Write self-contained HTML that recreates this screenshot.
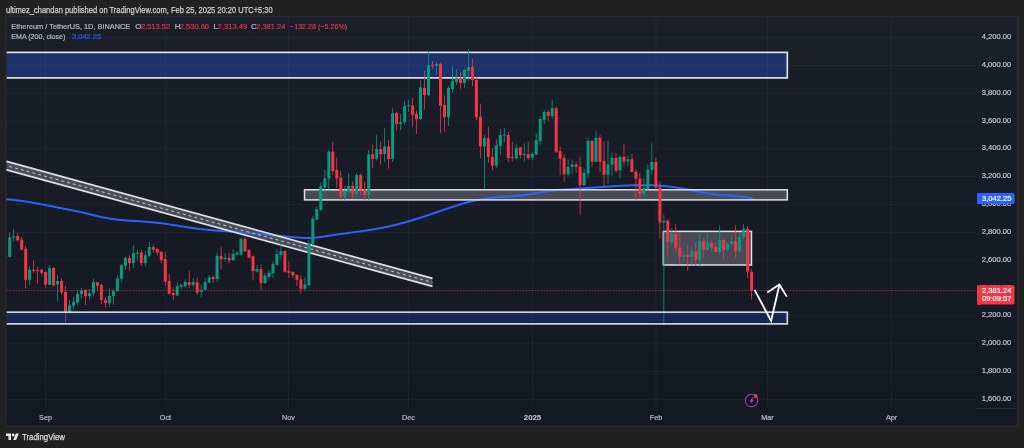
<!DOCTYPE html>
<html><head><meta charset="utf-8"><style>
html,body{margin:0;padding:0;background:#212121;}
body{width:1024px;height:448px;overflow:hidden;position:relative;font-family:"Liberation Sans", Arial, sans-serif;}
svg{position:absolute;left:0;top:0;will-change:transform;}
</style></head><body>
<svg width="1024" height="448" viewBox="0 0 1024 448" font-family='"Liberation Sans", Arial, sans-serif'>
<defs><linearGradient id="bgg" x1="0" y1="0" x2="0" y2="1"><stop offset="0" stop-color="#1a1e29"/><stop offset="1" stop-color="#141822"/></linearGradient><clipPath id="plot"><rect x="6.7" y="17" width="969.3" height="391"/></clipPath></defs>
<rect x="0" y="0" width="1024" height="448" fill="#212121"/>
<text x="6" y="12.7" font-size="9" fill="#cfcfcf" stroke="#cfcfcf" stroke-width="0.25" textLength="266.7" lengthAdjust="spacingAndGlyphs">ultimez_chandan published on TradingView.com, Feb 25, 2025 20:20 UTC+5:30</text>
<rect x="5.2" y="15.6" width="1013.8" height="411.8" fill="#292929"/>
<rect x="6.7" y="17" width="1010.1" height="408.4" fill="url(#bgg)"/>
<g stroke="rgba(255,255,255,0.04)" stroke-width="1">
<line x1="6.5" y1="399.39" x2="976" y2="399.39"/><line x1="6.5" y1="371.56" x2="976" y2="371.56"/><line x1="6.5" y1="343.72" x2="976" y2="343.72"/><line x1="6.5" y1="315.88" x2="976" y2="315.88"/><line x1="6.5" y1="288.04" x2="976" y2="288.04"/><line x1="6.5" y1="260.20" x2="976" y2="260.20"/><line x1="6.5" y1="232.37" x2="976" y2="232.37"/><line x1="6.5" y1="204.53" x2="976" y2="204.53"/><line x1="6.5" y1="176.69" x2="976" y2="176.69"/><line x1="6.5" y1="148.85" x2="976" y2="148.85"/><line x1="6.5" y1="121.01" x2="976" y2="121.01"/><line x1="6.5" y1="93.18" x2="976" y2="93.18"/><line x1="6.5" y1="65.34" x2="976" y2="65.34"/><line x1="6.5" y1="37.50" x2="976" y2="37.50"/><line x1="45.5" y1="17" x2="45.5" y2="408"/><line x1="165.4" y1="17" x2="165.4" y2="408"/><line x1="288.5" y1="17" x2="288.5" y2="408"/><line x1="408.5" y1="17" x2="408.5" y2="408"/><line x1="532.5" y1="17" x2="532.5" y2="408"/><line x1="656" y1="17" x2="656" y2="408"/><line x1="767.5" y1="17" x2="767.5" y2="408"/><line x1="891.5" y1="17" x2="891.5" y2="408"/>
</g>
<line x1="976" y1="408.5" x2="1017" y2="408.5" stroke="#2c2a33" stroke-width="1"/>
<!-- fills -->
<g clip-path="url(#plot)"><rect x="0" y="52.4" width="787.3" height="25.5" fill="rgba(41,98,255,0.3)"/></g>
<rect x="304.5" y="189.8" width="482.8" height="10.1" fill="#484a56"/>
<rect x="663.3" y="231.4" width="88.2" height="33.6" fill="#484a56"/>
<polygon points="6.5,161.4 432.5,278.4 432.5,286.4 6.5,169.9" fill="#4a4c57"/>
<!-- EMA -->
<path d="M6.8,199.36422375950121 C7.13,199.39 8.13,199.45 8.80,199.50 C9.47,199.55 10.13,199.61 10.80,199.66 C11.47,199.72 12.13,199.78 12.80,199.85 C13.47,199.91 14.13,199.98 14.80,200.06 C15.47,200.13 16.13,200.20 16.80,200.28 C17.47,200.36 18.13,200.44 18.80,200.53 C19.47,200.61 20.13,200.70 20.80,200.79 C21.47,200.88 22.13,200.98 22.80,201.07 C23.47,201.17 24.13,201.27 24.80,201.37 C25.47,201.47 26.13,201.58 26.80,201.68 C27.47,201.79 28.13,201.90 28.80,202.01 C29.47,202.12 30.13,202.23 30.80,202.35 C31.47,202.46 32.13,202.58 32.80,202.70 C33.47,202.81 34.13,202.93 34.80,203.06 C35.47,203.18 36.13,203.30 36.80,203.42 C37.47,203.55 38.13,203.67 38.80,203.80 C39.47,203.92 40.13,204.05 40.80,204.18 C41.47,204.31 42.13,204.44 42.80,204.57 C43.47,204.70 44.13,204.83 44.80,204.96 C45.47,205.09 46.13,205.22 46.80,205.35 C47.47,205.49 48.13,205.62 48.80,205.75 C49.47,205.88 50.13,206.01 50.80,206.15 C51.47,206.28 52.13,206.41 52.80,206.54 C53.47,206.67 54.13,206.81 54.80,206.94 C55.47,207.07 56.13,207.20 56.80,207.33 C57.47,207.46 58.13,207.59 58.80,207.72 C59.47,207.84 60.13,207.97 60.80,208.10 C61.47,208.23 62.13,208.36 62.80,208.49 C63.47,208.62 64.13,208.74 64.80,208.87 C65.47,209.00 66.13,209.13 66.80,209.26 C67.47,209.39 68.13,209.52 68.80,209.65 C69.47,209.78 70.13,209.91 70.80,210.05 C71.47,210.18 72.13,210.31 72.80,210.45 C73.47,210.58 74.13,210.71 74.80,210.85 C75.47,210.99 76.13,211.13 76.80,211.27 C77.47,211.40 78.13,211.55 78.80,211.69 C79.47,211.83 80.13,211.97 80.80,212.12 C81.47,212.27 82.13,212.41 82.80,212.56 C83.47,212.71 84.13,212.87 84.80,213.02 C85.47,213.17 86.13,213.33 86.80,213.49 C87.47,213.65 88.13,213.81 88.80,213.97 C89.47,214.13 90.13,214.30 90.80,214.46 C91.47,214.62 92.13,214.79 92.80,214.95 C93.47,215.12 94.13,215.28 94.80,215.44 C95.47,215.61 96.13,215.77 96.80,215.93 C97.47,216.09 98.13,216.25 98.80,216.40 C99.47,216.56 100.13,216.71 100.80,216.86 C101.47,217.01 102.13,217.16 102.80,217.30 C103.47,217.44 104.13,217.58 104.80,217.71 C105.47,217.84 106.13,217.97 106.80,218.09 C107.47,218.22 108.13,218.33 108.80,218.44 C109.47,218.56 110.13,218.66 110.80,218.77 C111.47,218.87 112.13,218.97 112.80,219.06 C113.47,219.15 114.13,219.24 114.80,219.33 C115.47,219.41 116.13,219.49 116.80,219.57 C117.47,219.65 118.13,219.72 118.80,219.79 C119.47,219.87 120.13,219.93 120.80,220.00 C121.47,220.06 122.13,220.13 122.80,220.19 C123.47,220.24 124.13,220.30 124.80,220.36 C125.47,220.41 126.13,220.46 126.80,220.51 C127.47,220.57 128.13,220.61 128.80,220.66 C129.47,220.71 130.13,220.76 130.80,220.80 C131.47,220.85 132.13,220.89 132.80,220.93 C133.47,220.97 134.13,221.02 134.80,221.06 C135.47,221.10 136.13,221.14 136.80,221.18 C137.47,221.22 138.13,221.26 138.80,221.31 C139.47,221.35 140.13,221.39 140.80,221.43 C141.47,221.47 142.13,221.51 142.80,221.56 C143.47,221.60 144.13,221.65 144.80,221.69 C145.47,221.74 146.13,221.78 146.80,221.83 C147.47,221.88 148.13,221.93 148.80,221.98 C149.47,222.04 150.13,222.09 150.80,222.15 C151.47,222.20 152.13,222.26 152.80,222.32 C153.47,222.39 154.13,222.45 154.80,222.52 C155.47,222.58 156.13,222.65 156.80,222.73 C157.47,222.80 158.13,222.88 158.80,222.96 C159.47,223.04 160.13,223.12 160.80,223.20 C161.47,223.29 162.13,223.37 162.80,223.46 C163.47,223.55 164.13,223.64 164.80,223.74 C165.47,223.83 166.13,223.93 166.80,224.02 C167.47,224.12 168.13,224.22 168.80,224.32 C169.47,224.42 170.13,224.52 170.80,224.63 C171.47,224.73 172.13,224.83 172.80,224.94 C173.47,225.04 174.13,225.15 174.80,225.26 C175.47,225.36 176.13,225.47 176.80,225.58 C177.47,225.68 178.13,225.79 178.80,225.90 C179.47,226.01 180.13,226.12 180.80,226.22 C181.47,226.33 182.13,226.44 182.80,226.54 C183.47,226.65 184.13,226.76 184.80,226.86 C185.47,226.97 186.13,227.07 186.80,227.18 C187.47,227.28 188.13,227.38 188.80,227.48 C189.47,227.58 190.13,227.68 190.80,227.78 C191.47,227.88 192.13,227.97 192.80,228.07 C193.47,228.16 194.13,228.25 194.80,228.34 C195.47,228.43 196.13,228.52 196.80,228.61 C197.47,228.69 198.13,228.78 198.80,228.86 C199.47,228.94 200.13,229.02 200.80,229.09 C201.47,229.17 202.13,229.24 202.80,229.32 C203.47,229.39 204.13,229.46 204.80,229.53 C205.47,229.60 206.13,229.67 206.80,229.73 C207.47,229.80 208.13,229.86 208.80,229.92 C209.47,229.99 210.13,230.05 210.80,230.11 C211.47,230.17 212.13,230.22 212.80,230.28 C213.47,230.34 214.13,230.39 214.80,230.45 C215.47,230.50 216.13,230.56 216.80,230.61 C217.47,230.66 218.13,230.71 218.80,230.76 C219.47,230.82 220.13,230.87 220.80,230.92 C221.47,230.97 222.13,231.01 222.80,231.06 C223.47,231.11 224.13,231.16 224.80,231.21 C225.47,231.25 226.13,231.30 226.80,231.35 C227.47,231.39 228.13,231.44 228.80,231.49 C229.47,231.53 230.13,231.58 230.80,231.63 C231.47,231.67 232.13,231.72 232.80,231.77 C233.47,231.81 234.13,231.86 234.80,231.91 C235.47,231.95 236.13,232.00 236.80,232.05 C237.47,232.10 238.13,232.15 238.80,232.20 C239.47,232.24 240.13,232.29 240.80,232.34 C241.47,232.40 242.13,232.45 242.80,232.50 C243.47,232.55 244.13,232.60 244.80,232.66 C245.47,232.71 246.13,232.77 246.80,232.82 C247.47,232.88 248.13,232.94 248.80,232.99 C249.47,233.05 250.13,233.11 250.80,233.17 C251.47,233.23 252.13,233.29 252.80,233.35 C253.47,233.41 254.13,233.48 254.80,233.54 C255.47,233.60 256.13,233.67 256.80,233.73 C257.47,233.80 258.13,233.86 258.80,233.93 C259.47,233.99 260.13,234.06 260.80,234.12 C261.47,234.19 262.13,234.26 262.80,234.32 C263.47,234.39 264.13,234.46 264.80,234.52 C265.47,234.59 266.13,234.66 266.80,234.73 C267.47,234.79 268.13,234.86 268.80,234.93 C269.47,235.00 270.13,235.06 270.80,235.13 C271.47,235.20 272.13,235.27 272.80,235.33 C273.47,235.40 274.13,235.47 274.80,235.53 C275.47,235.60 276.13,235.67 276.80,235.73 C277.47,235.80 278.13,235.86 278.80,235.93 C279.47,235.99 280.13,236.06 280.80,236.12 C281.47,236.18 282.13,236.25 282.80,236.31 C283.47,236.37 284.13,236.43 284.80,236.49 C285.47,236.55 286.13,236.61 286.80,236.67 C287.47,236.73 288.13,236.79 288.80,236.85 C289.47,236.90 290.13,236.96 290.80,237.02 C291.47,237.07 292.13,237.12 292.80,237.18 C293.47,237.23 294.13,237.28 294.80,237.33 C295.47,237.38 296.13,237.43 296.80,237.48 C297.47,237.52 298.13,237.57 298.80,237.61 C299.47,237.66 300.13,237.70 300.80,237.74 C301.47,237.78 302.13,237.82 302.80,237.86 C303.47,237.89 304.13,237.92 304.80,237.95 C305.47,237.97 306.13,237.99 306.80,238.00 C307.47,238.02 308.13,238.02 308.80,238.02 C309.47,238.01 310.13,238.00 310.80,237.97 C311.47,237.95 312.13,237.91 312.80,237.86 C313.47,237.82 314.13,237.76 314.80,237.69 C315.47,237.62 316.13,237.55 316.80,237.47 C317.47,237.38 318.13,237.30 318.80,237.21 C319.47,237.12 320.13,237.02 320.80,236.93 C321.47,236.84 322.13,236.74 322.80,236.64 C323.47,236.55 324.13,236.45 324.80,236.35 C325.47,236.25 326.13,236.16 326.80,236.06 C327.47,235.96 328.13,235.86 328.80,235.76 C329.47,235.66 330.13,235.56 330.80,235.46 C331.47,235.36 332.13,235.26 332.80,235.16 C333.47,235.06 334.13,234.96 334.80,234.86 C335.47,234.76 336.13,234.66 336.80,234.57 C337.47,234.47 338.13,234.37 338.80,234.27 C339.47,234.18 340.13,234.08 340.80,233.99 C341.47,233.90 342.13,233.80 342.80,233.71 C343.47,233.62 344.13,233.53 344.80,233.44 C345.47,233.35 346.13,233.26 346.80,233.17 C347.47,233.08 348.13,232.99 348.80,232.90 C349.47,232.81 350.13,232.72 350.80,232.63 C351.47,232.55 352.13,232.46 352.80,232.37 C353.47,232.28 354.13,232.19 354.80,232.10 C355.47,232.02 356.13,231.93 356.80,231.84 C357.47,231.75 358.13,231.66 358.80,231.57 C359.47,231.48 360.13,231.39 360.80,231.29 C361.47,231.20 362.13,231.11 362.80,231.01 C363.47,230.92 364.13,230.82 364.80,230.73 C365.47,230.63 366.13,230.53 366.80,230.43 C367.47,230.34 368.13,230.23 368.80,230.13 C369.47,230.03 370.13,229.93 370.80,229.82 C371.47,229.71 372.13,229.61 372.80,229.50 C373.47,229.39 374.13,229.28 374.80,229.16 C375.47,229.05 376.13,228.93 376.80,228.81 C377.47,228.70 378.13,228.58 378.80,228.45 C379.47,228.33 380.13,228.20 380.80,228.07 C381.47,227.95 382.13,227.81 382.80,227.68 C383.47,227.55 384.13,227.41 384.80,227.27 C385.47,227.13 386.13,226.99 386.80,226.84 C387.47,226.70 388.13,226.55 388.80,226.40 C389.47,226.25 390.13,226.10 390.80,225.95 C391.47,225.79 392.13,225.64 392.80,225.48 C393.47,225.32 394.13,225.16 394.80,225.00 C395.47,224.83 396.13,224.67 396.80,224.50 C397.47,224.33 398.13,224.16 398.80,223.99 C399.47,223.82 400.13,223.64 400.80,223.46 C401.47,223.29 402.13,223.11 402.80,222.93 C403.47,222.75 404.13,222.57 404.80,222.38 C405.47,222.20 406.13,222.01 406.80,221.82 C407.47,221.63 408.13,221.44 408.80,221.25 C409.47,221.06 410.13,220.86 410.80,220.67 C411.47,220.47 412.13,220.27 412.80,220.07 C413.47,219.87 414.13,219.67 414.80,219.47 C415.47,219.26 416.13,219.06 416.80,218.85 C417.47,218.65 418.13,218.44 418.80,218.23 C419.47,218.02 420.13,217.81 420.80,217.60 C421.47,217.38 422.13,217.17 422.80,216.95 C423.47,216.74 424.13,216.52 424.80,216.30 C425.47,216.08 426.13,215.86 426.80,215.64 C427.47,215.42 428.13,215.20 428.80,214.97 C429.47,214.75 430.13,214.52 430.80,214.30 C431.47,214.07 432.13,213.84 432.80,213.62 C433.47,213.39 434.13,213.16 434.80,212.93 C435.47,212.70 436.13,212.47 436.80,212.24 C437.47,212.01 438.13,211.78 438.80,211.54 C439.47,211.31 440.13,211.08 440.80,210.85 C441.47,210.62 442.13,210.39 442.80,210.16 C443.47,209.93 444.13,209.70 444.80,209.47 C445.47,209.24 446.13,209.01 446.80,208.78 C447.47,208.56 448.13,208.33 448.80,208.11 C449.47,207.88 450.13,207.66 450.80,207.43 C451.47,207.21 452.13,206.99 452.80,206.77 C453.47,206.55 454.13,206.33 454.80,206.12 C455.47,205.90 456.13,205.69 456.80,205.48 C457.47,205.27 458.13,205.06 458.80,204.86 C459.47,204.65 460.13,204.45 460.80,204.25 C461.47,204.05 462.13,203.85 462.80,203.65 C463.47,203.46 464.13,203.27 464.80,203.08 C465.47,202.89 466.13,202.71 466.80,202.53 C467.47,202.35 468.13,202.17 468.80,201.99 C469.47,201.82 470.13,201.65 470.80,201.49 C471.47,201.32 472.13,201.16 472.80,201.00 C473.47,200.85 474.13,200.70 474.80,200.55 C475.47,200.40 476.13,200.26 476.80,200.12 C477.47,199.98 478.13,199.85 478.80,199.72 C479.47,199.60 480.13,199.48 480.80,199.36 C481.47,199.24 482.13,199.13 482.80,199.02 C483.47,198.92 484.13,198.82 484.80,198.72 C485.47,198.62 486.13,198.53 486.80,198.44 C487.47,198.35 488.13,198.27 488.80,198.19 C489.47,198.11 490.13,198.03 490.80,197.95 C491.47,197.88 492.13,197.81 492.80,197.74 C493.47,197.67 494.13,197.61 494.80,197.55 C495.47,197.48 496.13,197.42 496.80,197.36 C497.47,197.31 498.13,197.25 498.80,197.19 C499.47,197.14 500.13,197.09 500.80,197.04 C501.47,196.98 502.13,196.93 502.80,196.88 C503.47,196.83 504.13,196.78 504.80,196.74 C505.47,196.69 506.13,196.64 506.80,196.59 C507.47,196.54 508.13,196.49 508.80,196.45 C509.47,196.40 510.13,196.35 510.80,196.30 C511.47,196.25 512.13,196.20 512.80,196.15 C513.47,196.09 514.13,196.04 514.80,195.99 C515.47,195.93 516.13,195.87 516.80,195.82 C517.47,195.76 518.13,195.70 518.80,195.63 C519.47,195.57 520.13,195.51 520.80,195.44 C521.47,195.37 522.13,195.30 522.80,195.22 C523.47,195.15 524.13,195.07 524.80,194.99 C525.47,194.91 526.13,194.82 526.80,194.74 C527.47,194.65 528.13,194.55 528.80,194.46 C529.47,194.36 530.13,194.26 530.80,194.15 C531.47,194.04 532.13,193.93 532.80,193.82 C533.47,193.70 534.13,193.59 534.80,193.47 C535.47,193.35 536.13,193.23 536.80,193.10 C537.47,192.98 538.13,192.86 538.80,192.73 C539.47,192.61 540.13,192.49 540.80,192.36 C541.47,192.24 542.13,192.12 542.80,192.00 C543.47,191.88 544.13,191.76 544.80,191.65 C545.47,191.53 546.13,191.42 546.80,191.32 C547.47,191.21 548.13,191.11 548.80,191.01 C549.47,190.91 550.13,190.82 550.80,190.73 C551.47,190.65 552.13,190.57 552.80,190.49 C553.47,190.42 554.13,190.35 554.80,190.28 C555.47,190.21 556.13,190.15 556.80,190.09 C557.47,190.04 558.13,189.98 558.80,189.93 C559.47,189.88 560.13,189.83 560.80,189.78 C561.47,189.74 562.13,189.69 562.80,189.65 C563.47,189.61 564.13,189.57 564.80,189.53 C565.47,189.49 566.13,189.45 566.80,189.41 C567.47,189.37 568.13,189.33 568.80,189.30 C569.47,189.26 570.13,189.22 570.80,189.18 C571.47,189.14 572.13,189.10 572.80,189.06 C573.47,189.01 574.13,188.97 574.80,188.93 C575.47,188.89 576.13,188.84 576.80,188.80 C577.47,188.75 578.13,188.71 578.80,188.66 C579.47,188.62 580.13,188.57 580.80,188.53 C581.47,188.48 582.13,188.43 582.80,188.39 C583.47,188.34 584.13,188.29 584.80,188.24 C585.47,188.20 586.13,188.15 586.80,188.10 C587.47,188.05 588.13,188.00 588.80,187.95 C589.47,187.91 590.13,187.86 590.80,187.81 C591.47,187.76 592.13,187.71 592.80,187.66 C593.47,187.61 594.13,187.56 594.80,187.52 C595.47,187.47 596.13,187.42 596.80,187.37 C597.47,187.32 598.13,187.27 598.80,187.22 C599.47,187.17 600.13,187.13 600.80,187.08 C601.47,187.03 602.13,186.98 602.80,186.94 C603.47,186.89 604.13,186.84 604.80,186.79 C605.47,186.75 606.13,186.70 606.80,186.66 C607.47,186.61 608.13,186.56 608.80,186.52 C609.47,186.48 610.13,186.43 610.80,186.39 C611.47,186.34 612.13,186.30 612.80,186.26 C613.47,186.22 614.13,186.18 614.80,186.13 C615.47,186.09 616.13,186.05 616.80,186.01 C617.47,185.98 618.13,185.94 618.80,185.90 C619.47,185.86 620.13,185.83 620.80,185.79 C621.47,185.75 622.13,185.72 622.80,185.69 C623.47,185.65 624.13,185.62 624.80,185.59 C625.47,185.56 626.13,185.53 626.80,185.50 C627.47,185.47 628.13,185.44 628.80,185.42 C629.47,185.39 630.13,185.37 630.80,185.35 C631.47,185.32 632.13,185.30 632.80,185.28 C633.47,185.26 634.13,185.24 634.80,185.23 C635.47,185.21 636.13,185.20 636.80,185.19 C637.47,185.17 638.13,185.16 638.80,185.15 C639.47,185.15 640.13,185.14 640.80,185.14 C641.47,185.13 642.13,185.13 642.80,185.13 C643.47,185.13 644.13,185.13 644.80,185.14 C645.47,185.14 646.13,185.15 646.80,185.16 C647.47,185.17 648.13,185.18 648.80,185.20 C649.47,185.21 650.13,185.23 650.80,185.25 C651.47,185.27 652.13,185.29 652.80,185.32 C653.47,185.34 654.13,185.37 654.80,185.40 C655.47,185.43 656.13,185.47 656.80,185.51 C657.47,185.54 658.13,185.58 658.80,185.63 C659.47,185.67 660.13,185.72 660.80,185.77 C661.47,185.82 662.13,185.87 662.80,185.93 C663.47,185.99 664.13,186.05 664.80,186.11 C665.47,186.18 666.13,186.24 666.80,186.32 C667.47,186.39 668.13,186.46 668.80,186.54 C669.47,186.62 670.13,186.70 670.80,186.79 C671.47,186.87 672.13,186.96 672.80,187.06 C673.47,187.15 674.13,187.25 674.80,187.35 C675.47,187.45 676.13,187.55 676.80,187.66 C677.47,187.76 678.13,187.87 678.80,187.98 C679.47,188.09 680.13,188.20 680.80,188.32 C681.47,188.43 682.13,188.55 682.80,188.67 C683.47,188.79 684.13,188.91 684.80,189.03 C685.47,189.15 686.13,189.28 686.80,189.40 C687.47,189.52 688.13,189.65 688.80,189.77 C689.47,189.90 690.13,190.03 690.80,190.15 C691.47,190.28 692.13,190.41 692.80,190.54 C693.47,190.66 694.13,190.79 694.80,190.92 C695.47,191.04 696.13,191.17 696.80,191.30 C697.47,191.42 698.13,191.55 698.80,191.67 C699.47,191.80 700.13,191.92 700.80,192.04 C701.47,192.17 702.13,192.29 702.80,192.41 C703.47,192.53 704.13,192.64 704.80,192.76 C705.47,192.87 706.13,192.99 706.80,193.10 C707.47,193.21 708.13,193.32 708.80,193.43 C709.47,193.53 710.13,193.64 710.80,193.74 C711.47,193.84 712.13,193.94 712.80,194.03 C713.47,194.13 714.13,194.22 714.80,194.30 C715.47,194.39 716.13,194.48 716.80,194.56 C717.47,194.64 718.13,194.71 718.80,194.78 C719.47,194.85 720.13,194.92 720.80,194.98 C721.47,195.05 722.13,195.11 722.80,195.16 C723.47,195.22 724.13,195.27 724.80,195.32 C725.47,195.37 726.13,195.42 726.80,195.46 C727.47,195.51 728.13,195.55 728.80,195.60 C729.47,195.64 730.13,195.68 730.80,195.73 C731.47,195.77 732.13,195.81 732.80,195.86 C733.47,195.91 734.13,195.95 734.80,196.00 C735.47,196.05 736.13,196.10 736.80,196.16 C737.47,196.21 738.13,196.27 738.80,196.33 C739.47,196.39 740.13,196.45 740.80,196.52 C741.47,196.59 742.13,196.67 742.80,196.75 C743.47,196.83 744.13,196.92 744.80,197.01 C745.47,197.10 746.13,197.20 746.80,197.31 C747.47,197.42 748.13,197.53 748.80,197.66 C749.47,197.78 750.23,197.94 750.80,198.05 C751.37,198.17 751.97,198.31 752.20,198.36" fill="none" stroke="#2962ff" stroke-width="2" stroke-linejoin="round" stroke-linecap="round"/>
<!-- borders -->
<g fill="none" stroke="#dfe0e5">
<g clip-path="url(#plot)"><rect x="0" y="52.4" width="787.3" height="25.5" stroke-width="1.7"/></g>
<rect x="304.5" y="189.8" width="482.8" height="10.1" stroke-width="1.5"/>
<rect x="663.3" y="231.4" width="88.2" height="33.6" stroke-width="1.5"/>
<line x1="6.5" y1="161.4" x2="432.5" y2="278.4" stroke-width="1.7"/>
<line x1="6.5" y1="169.9" x2="432.5" y2="286.4" stroke-width="1.7"/>
<line x1="6.5" y1="165.65" x2="432.5" y2="282.4" stroke="#c8cad2" stroke-width="1" stroke-dasharray="3,3" stroke-dashoffset="-2.8"/>
</g>
<!-- candles -->
<g clip-path="url(#plot)">
<rect x="5.31" y="254.5" width="0.8" height="3.5" fill="#f23645"/>
<rect x="4.2" y="255.5" width="3" height="1.5" fill="#f23645"/>
<rect x="9.30" y="232.3" width="0.8" height="25.2" fill="#089981"/>
<rect x="8.2" y="237.3" width="3" height="19.6" fill="#089981"/>
<rect x="13.29" y="229.1" width="0.8" height="12.1" fill="#089981"/>
<rect x="12.2" y="236.4" width="3" height="1.3" fill="#089981"/>
<rect x="17.28" y="233.0" width="0.8" height="8.6" fill="#f23645"/>
<rect x="16.2" y="236.1" width="3" height="4.1" fill="#f23645"/>
<rect x="21.27" y="237.0" width="0.8" height="13.5" fill="#f23645"/>
<rect x="20.2" y="239.6" width="3" height="10.0" fill="#f23645"/>
<rect x="25.26" y="246.2" width="0.8" height="42.2" fill="#f23645"/>
<rect x="24.2" y="248.6" width="3" height="31.2" fill="#f23645"/>
<rect x="29.25" y="266.2" width="0.8" height="18.8" fill="#089981"/>
<rect x="28.1" y="269.7" width="3" height="10.1" fill="#089981"/>
<rect x="33.23" y="260.3" width="0.8" height="12.5" fill="#f23645"/>
<rect x="32.1" y="269.8" width="3" height="1.2" fill="#f23645"/>
<rect x="37.22" y="266.6" width="0.8" height="17.1" fill="#f23645"/>
<rect x="36.1" y="270.2" width="3" height="1.0" fill="#f23645"/>
<rect x="41.21" y="268.9" width="0.8" height="5.8" fill="#f23645"/>
<rect x="40.1" y="269.7" width="3" height="3.1" fill="#f23645"/>
<rect x="45.20" y="271.2" width="0.8" height="16.4" fill="#f23645"/>
<rect x="44.1" y="272.0" width="3" height="12.5" fill="#f23645"/>
<rect x="49.19" y="265.0" width="0.8" height="20.0" fill="#089981"/>
<rect x="48.1" y="268.1" width="3" height="16.7" fill="#089981"/>
<rect x="53.18" y="266.9" width="0.8" height="20.0" fill="#f23645"/>
<rect x="52.1" y="268.1" width="3" height="17.2" fill="#f23645"/>
<rect x="57.17" y="275.2" width="0.8" height="25.7" fill="#089981"/>
<rect x="56.1" y="281.0" width="3" height="3.5" fill="#089981"/>
<rect x="61.15" y="278.3" width="0.8" height="16.4" fill="#f23645"/>
<rect x="60.1" y="281.0" width="3" height="11.3" fill="#f23645"/>
<rect x="65.14" y="286.4" width="0.8" height="36.1" fill="#f23645"/>
<rect x="64.0" y="292.0" width="3" height="20.1" fill="#f23645"/>
<rect x="69.13" y="299.8" width="0.8" height="12.7" fill="#089981"/>
<rect x="68.0" y="305.2" width="3" height="6.9" fill="#089981"/>
<rect x="73.12" y="297.1" width="0.8" height="12.3" fill="#089981"/>
<rect x="72.0" y="302.0" width="3" height="3.7" fill="#089981"/>
<rect x="77.11" y="290.2" width="0.8" height="15.0" fill="#089981"/>
<rect x="76.0" y="293.9" width="3" height="8.6" fill="#089981"/>
<rect x="81.10" y="288.0" width="0.8" height="10.7" fill="#089981"/>
<rect x="80.0" y="290.2" width="3" height="3.7" fill="#089981"/>
<rect x="85.09" y="289.1" width="0.8" height="15.7" fill="#f23645"/>
<rect x="84.0" y="289.9" width="3" height="6.4" fill="#f23645"/>
<rect x="89.08" y="289.1" width="0.8" height="10.7" fill="#089981"/>
<rect x="88.0" y="293.1" width="3" height="3.0" fill="#089981"/>
<rect x="93.06" y="279.0" width="0.8" height="17.2" fill="#089981"/>
<rect x="92.0" y="282.1" width="3" height="11.3" fill="#089981"/>
<rect x="97.05" y="281.6" width="0.8" height="9.1" fill="#f23645"/>
<rect x="96.0" y="282.4" width="3" height="3.5" fill="#f23645"/>
<rect x="101.04" y="283.4" width="0.8" height="20.7" fill="#f23645"/>
<rect x="99.9" y="285.1" width="3" height="14.7" fill="#f23645"/>
<rect x="105.03" y="297.1" width="0.8" height="10.7" fill="#f23645"/>
<rect x="103.9" y="300.1" width="3" height="2.9" fill="#f23645"/>
<rect x="109.02" y="288.6" width="0.8" height="18.2" fill="#089981"/>
<rect x="107.9" y="296.1" width="3" height="6.9" fill="#089981"/>
<rect x="113.01" y="289.1" width="0.8" height="15.5" fill="#089981"/>
<rect x="111.9" y="291.2" width="3" height="4.9" fill="#089981"/>
<rect x="117.00" y="275.0" width="0.8" height="16.6" fill="#089981"/>
<rect x="115.9" y="278.3" width="3" height="12.9" fill="#089981"/>
<rect x="120.99" y="264.2" width="0.8" height="18.0" fill="#089981"/>
<rect x="119.9" y="265.3" width="3" height="13.4" fill="#089981"/>
<rect x="124.97" y="256.4" width="0.8" height="13.3" fill="#089981"/>
<rect x="123.9" y="258.0" width="3" height="7.8" fill="#089981"/>
<rect x="128.96" y="255.2" width="0.8" height="15.8" fill="#f23645"/>
<rect x="127.9" y="258.0" width="3" height="5.1" fill="#f23645"/>
<rect x="132.95" y="245.2" width="0.8" height="22.9" fill="#089981"/>
<rect x="131.9" y="253.0" width="3" height="10.1" fill="#089981"/>
<rect x="136.94" y="249.7" width="0.8" height="11.1" fill="#089981"/>
<rect x="135.8" y="252.8" width="3" height="1.0" fill="#089981"/>
<rect x="140.93" y="250.2" width="0.8" height="15.6" fill="#f23645"/>
<rect x="139.8" y="252.5" width="3" height="10.6" fill="#f23645"/>
<rect x="144.92" y="251.0" width="0.8" height="14.8" fill="#089981"/>
<rect x="143.8" y="255.2" width="3" height="7.9" fill="#089981"/>
<rect x="148.91" y="242.0" width="0.8" height="15.5" fill="#089981"/>
<rect x="147.8" y="247.0" width="3" height="8.6" fill="#089981"/>
<rect x="152.89" y="244.7" width="0.8" height="7.8" fill="#f23645"/>
<rect x="151.8" y="247.0" width="3" height="2.7" fill="#f23645"/>
<rect x="156.88" y="247.8" width="0.8" height="7.8" fill="#f23645"/>
<rect x="155.8" y="249.0" width="3" height="3.5" fill="#f23645"/>
<rect x="160.87" y="250.8" width="0.8" height="12.5" fill="#f23645"/>
<rect x="159.8" y="251.9" width="3" height="8.3" fill="#f23645"/>
<rect x="164.86" y="251.6" width="0.8" height="34.0" fill="#f23645"/>
<rect x="163.8" y="259.0" width="3" height="22.7" fill="#f23645"/>
<rect x="168.85" y="273.9" width="0.8" height="20.7" fill="#f23645"/>
<rect x="167.7" y="280.9" width="3" height="12.9" fill="#f23645"/>
<rect x="172.84" y="287.2" width="0.8" height="12.9" fill="#f23645"/>
<rect x="171.7" y="293.0" width="3" height="2.0" fill="#f23645"/>
<rect x="176.83" y="282.1" width="0.8" height="13.9" fill="#089981"/>
<rect x="175.7" y="286.0" width="3" height="9.4" fill="#089981"/>
<rect x="180.82" y="284.0" width="0.8" height="4.8" fill="#089981"/>
<rect x="179.7" y="284.8" width="3" height="2.0" fill="#089981"/>
<rect x="184.80" y="279.4" width="0.8" height="7.4" fill="#089981"/>
<rect x="183.7" y="282.1" width="3" height="4.3" fill="#089981"/>
<rect x="188.79" y="271.2" width="0.8" height="16.4" fill="#f23645"/>
<rect x="187.7" y="282.1" width="3" height="2.7" fill="#f23645"/>
<rect x="192.78" y="278.2" width="0.8" height="9.0" fill="#089981"/>
<rect x="191.7" y="282.1" width="3" height="2.7" fill="#089981"/>
<rect x="196.77" y="277.4" width="0.8" height="17.2" fill="#f23645"/>
<rect x="195.7" y="282.1" width="3" height="10.6" fill="#f23645"/>
<rect x="200.76" y="284.5" width="0.8" height="12.8" fill="#089981"/>
<rect x="199.7" y="290.3" width="3" height="1.6" fill="#089981"/>
<rect x="204.75" y="278.1" width="0.8" height="12.5" fill="#089981"/>
<rect x="203.6" y="282.1" width="3" height="7.8" fill="#089981"/>
<rect x="208.74" y="275.0" width="0.8" height="8.0" fill="#089981"/>
<rect x="207.6" y="277.2" width="3" height="5.5" fill="#089981"/>
<rect x="212.73" y="275.8" width="0.8" height="7.1" fill="#f23645"/>
<rect x="211.6" y="277.2" width="3" height="1.8" fill="#f23645"/>
<rect x="216.71" y="252.3" width="0.8" height="29.4" fill="#089981"/>
<rect x="215.6" y="255.9" width="3" height="23.1" fill="#089981"/>
<rect x="220.70" y="247.2" width="0.8" height="21.8" fill="#f23645"/>
<rect x="219.6" y="255.9" width="3" height="3.5" fill="#f23645"/>
<rect x="224.69" y="253.1" width="0.8" height="8.6" fill="#089981"/>
<rect x="223.6" y="257.8" width="3" height="1.2" fill="#089981"/>
<rect x="228.68" y="253.1" width="0.8" height="10.2" fill="#f23645"/>
<rect x="227.6" y="257.8" width="3" height="2.4" fill="#f23645"/>
<rect x="232.67" y="249.2" width="0.8" height="11.8" fill="#089981"/>
<rect x="231.6" y="253.9" width="3" height="6.3" fill="#089981"/>
<rect x="236.66" y="251.3" width="0.8" height="4.2" fill="#089981"/>
<rect x="235.6" y="252.8" width="3" height="1.9" fill="#089981"/>
<rect x="240.65" y="237.5" width="0.8" height="18.0" fill="#089981"/>
<rect x="239.5" y="239.1" width="3" height="15.3" fill="#089981"/>
<rect x="244.63" y="236.7" width="0.8" height="14.9" fill="#f23645"/>
<rect x="243.5" y="238.8" width="3" height="12.5" fill="#f23645"/>
<rect x="248.62" y="249.2" width="0.8" height="9.4" fill="#f23645"/>
<rect x="247.5" y="250.0" width="3" height="7.8" fill="#f23645"/>
<rect x="252.61" y="255.5" width="0.8" height="25.0" fill="#f23645"/>
<rect x="251.5" y="256.2" width="3" height="14.9" fill="#f23645"/>
<rect x="256.60" y="265.3" width="0.8" height="7.4" fill="#089981"/>
<rect x="255.5" y="269.0" width="3" height="2.6" fill="#089981"/>
<rect x="260.59" y="264.4" width="0.8" height="25.4" fill="#f23645"/>
<rect x="259.5" y="269.0" width="3" height="14.1" fill="#f23645"/>
<rect x="264.58" y="273.1" width="0.8" height="10.9" fill="#089981"/>
<rect x="263.5" y="275.8" width="3" height="7.3" fill="#089981"/>
<rect x="268.57" y="270.3" width="0.8" height="8.6" fill="#089981"/>
<rect x="267.5" y="272.7" width="3" height="4.2" fill="#089981"/>
<rect x="272.56" y="261.7" width="0.8" height="16.1" fill="#089981"/>
<rect x="271.5" y="264.0" width="3" height="9.1" fill="#089981"/>
<rect x="276.54" y="248.8" width="0.8" height="16.9" fill="#089981"/>
<rect x="275.4" y="253.9" width="3" height="10.9" fill="#089981"/>
<rect x="280.53" y="243.8" width="0.8" height="15.6" fill="#089981"/>
<rect x="279.4" y="251.2" width="3" height="3.8" fill="#089981"/>
<rect x="284.52" y="250.0" width="0.8" height="22.7" fill="#f23645"/>
<rect x="283.4" y="251.2" width="3" height="20.6" fill="#f23645"/>
<rect x="288.51" y="261.7" width="0.8" height="16.4" fill="#f23645"/>
<rect x="287.4" y="271.1" width="3" height="1.6" fill="#f23645"/>
<rect x="292.50" y="271.1" width="0.8" height="7.0" fill="#f23645"/>
<rect x="291.4" y="271.9" width="3" height="3.4" fill="#f23645"/>
<rect x="296.49" y="274.7" width="0.8" height="11.3" fill="#f23645"/>
<rect x="295.4" y="274.9" width="3" height="4.8" fill="#f23645"/>
<rect x="300.48" y="275.3" width="0.8" height="18.4" fill="#f23645"/>
<rect x="299.4" y="279.4" width="3" height="9.4" fill="#f23645"/>
<rect x="304.47" y="277.3" width="0.8" height="12.5" fill="#089981"/>
<rect x="303.4" y="284.4" width="3" height="4.4" fill="#089981"/>
<rect x="308.45" y="240.2" width="0.8" height="45.8" fill="#089981"/>
<rect x="307.4" y="243.0" width="3" height="42.2" fill="#089981"/>
<rect x="312.44" y="215.7" width="0.8" height="29.8" fill="#089981"/>
<rect x="311.3" y="218.6" width="3" height="25.2" fill="#089981"/>
<rect x="316.43" y="206.6" width="0.8" height="13.9" fill="#089981"/>
<rect x="315.3" y="209.3" width="3" height="10.1" fill="#089981"/>
<rect x="320.42" y="182.4" width="0.8" height="28.6" fill="#089981"/>
<rect x="319.3" y="186.3" width="3" height="23.5" fill="#089981"/>
<rect x="324.41" y="169.3" width="0.8" height="24.4" fill="#089981"/>
<rect x="323.3" y="178.3" width="3" height="8.7" fill="#089981"/>
<rect x="328.40" y="150.0" width="0.8" height="39.5" fill="#089981"/>
<rect x="327.3" y="151.7" width="3" height="26.8" fill="#089981"/>
<rect x="332.39" y="142.1" width="0.8" height="33.1" fill="#f23645"/>
<rect x="331.3" y="151.7" width="3" height="19.4" fill="#f23645"/>
<rect x="336.38" y="157.6" width="0.8" height="30.4" fill="#f23645"/>
<rect x="335.3" y="169.9" width="3" height="8.5" fill="#f23645"/>
<rect x="340.36" y="170.7" width="0.8" height="29.3" fill="#f23645"/>
<rect x="339.3" y="177.7" width="3" height="18.8" fill="#f23645"/>
<rect x="344.35" y="185.8" width="0.8" height="15.8" fill="#089981"/>
<rect x="343.3" y="191.0" width="3" height="5.5" fill="#089981"/>
<rect x="348.34" y="173.4" width="0.8" height="20.3" fill="#089981"/>
<rect x="347.2" y="185.9" width="3" height="5.9" fill="#089981"/>
<rect x="352.33" y="181.2" width="0.8" height="17.6" fill="#f23645"/>
<rect x="351.2" y="185.9" width="3" height="8.2" fill="#f23645"/>
<rect x="356.32" y="173.0" width="0.8" height="23.9" fill="#089981"/>
<rect x="355.2" y="174.9" width="3" height="19.2" fill="#089981"/>
<rect x="360.31" y="173.4" width="0.8" height="21.5" fill="#f23645"/>
<rect x="359.2" y="174.9" width="3" height="14.9" fill="#f23645"/>
<rect x="364.30" y="182.0" width="0.8" height="18.0" fill="#f23645"/>
<rect x="363.2" y="189.1" width="3" height="5.8" fill="#f23645"/>
<rect x="368.28" y="150.1" width="0.8" height="49.9" fill="#089981"/>
<rect x="367.2" y="154.2" width="3" height="40.7" fill="#089981"/>
<rect x="372.27" y="144.8" width="0.8" height="23.3" fill="#f23645"/>
<rect x="371.2" y="154.2" width="3" height="4.6" fill="#f23645"/>
<rect x="376.26" y="135.0" width="0.8" height="25.5" fill="#089981"/>
<rect x="375.2" y="149.1" width="3" height="9.7" fill="#089981"/>
<rect x="380.25" y="141.4" width="0.8" height="23.2" fill="#f23645"/>
<rect x="379.2" y="149.1" width="3" height="5.1" fill="#f23645"/>
<rect x="384.24" y="128.3" width="0.8" height="33.4" fill="#089981"/>
<rect x="383.1" y="146.4" width="3" height="7.6" fill="#089981"/>
<rect x="388.23" y="139.9" width="0.8" height="28.8" fill="#f23645"/>
<rect x="387.1" y="146.4" width="3" height="12.6" fill="#f23645"/>
<rect x="392.22" y="108.4" width="0.8" height="53.3" fill="#089981"/>
<rect x="391.1" y="113.1" width="3" height="45.7" fill="#089981"/>
<rect x="396.21" y="111.9" width="0.8" height="18.2" fill="#f23645"/>
<rect x="395.1" y="112.9" width="3" height="11.0" fill="#f23645"/>
<rect x="400.19" y="114.0" width="0.8" height="15.6" fill="#089981"/>
<rect x="399.1" y="122.2" width="3" height="1.7" fill="#089981"/>
<rect x="404.18" y="101.1" width="0.8" height="23.6" fill="#089981"/>
<rect x="403.1" y="106.1" width="3" height="16.1" fill="#089981"/>
<rect x="408.17" y="100.0" width="0.8" height="11.9" fill="#089981"/>
<rect x="407.1" y="105.1" width="3" height="1.0" fill="#089981"/>
<rect x="412.16" y="98.1" width="0.8" height="28.8" fill="#f23645"/>
<rect x="411.1" y="105.5" width="3" height="9.4" fill="#f23645"/>
<rect x="416.15" y="110.8" width="0.8" height="23.2" fill="#f23645"/>
<rect x="415.0" y="114.0" width="3" height="5.2" fill="#f23645"/>
<rect x="420.14" y="80.3" width="0.8" height="39.7" fill="#089981"/>
<rect x="419.0" y="87.5" width="3" height="31.5" fill="#089981"/>
<rect x="424.13" y="70.7" width="0.8" height="38.9" fill="#f23645"/>
<rect x="423.0" y="87.8" width="3" height="7.2" fill="#f23645"/>
<rect x="428.12" y="51.9" width="0.8" height="44.6" fill="#089981"/>
<rect x="427.0" y="65.1" width="3" height="29.9" fill="#089981"/>
<rect x="432.10" y="61.0" width="0.8" height="7.8" fill="#f23645"/>
<rect x="431.0" y="64.7" width="3" height="1.2" fill="#f23645"/>
<rect x="436.09" y="62.2" width="0.8" height="12.6" fill="#089981"/>
<rect x="435.0" y="63.9" width="3" height="1.6" fill="#089981"/>
<rect x="440.08" y="63.0" width="0.8" height="70.0" fill="#f23645"/>
<rect x="439.0" y="63.9" width="3" height="41.9" fill="#f23645"/>
<rect x="444.07" y="95.3" width="0.8" height="36.5" fill="#f23645"/>
<rect x="443.0" y="104.9" width="3" height="12.3" fill="#f23645"/>
<rect x="448.06" y="86.0" width="0.8" height="40.0" fill="#089981"/>
<rect x="447.0" y="88.0" width="3" height="29.2" fill="#089981"/>
<rect x="452.05" y="66.1" width="0.8" height="26.5" fill="#089981"/>
<rect x="450.9" y="81.2" width="3" height="7.8" fill="#089981"/>
<rect x="456.04" y="69.1" width="0.8" height="16.0" fill="#089981"/>
<rect x="454.9" y="77.9" width="3" height="3.9" fill="#089981"/>
<rect x="460.02" y="72.4" width="0.8" height="16.8" fill="#f23645"/>
<rect x="458.9" y="77.9" width="3" height="5.1" fill="#f23645"/>
<rect x="464.01" y="68.5" width="0.8" height="19.3" fill="#089981"/>
<rect x="462.9" y="70.0" width="3" height="13.0" fill="#089981"/>
<rect x="468.00" y="49.2" width="0.8" height="31.6" fill="#089981"/>
<rect x="466.9" y="67.1" width="3" height="3.8" fill="#089981"/>
<rect x="471.99" y="58.9" width="0.8" height="27.1" fill="#f23645"/>
<rect x="470.9" y="67.1" width="3" height="12.9" fill="#f23645"/>
<rect x="475.98" y="77.2" width="0.8" height="42.8" fill="#f23645"/>
<rect x="474.9" y="80.0" width="3" height="37.2" fill="#f23645"/>
<rect x="479.97" y="103.7" width="0.8" height="54.4" fill="#f23645"/>
<rect x="478.9" y="116.8" width="3" height="29.6" fill="#f23645"/>
<rect x="483.96" y="134.6" width="0.8" height="54.8" fill="#089981"/>
<rect x="482.9" y="138.2" width="3" height="8.2" fill="#089981"/>
<rect x="487.95" y="127.0" width="0.8" height="35.8" fill="#f23645"/>
<rect x="486.8" y="138.2" width="3" height="18.7" fill="#f23645"/>
<rect x="491.93" y="148.1" width="0.8" height="21.9" fill="#f23645"/>
<rect x="490.8" y="156.9" width="3" height="8.8" fill="#f23645"/>
<rect x="495.92" y="139.3" width="0.8" height="28.7" fill="#089981"/>
<rect x="494.8" y="145.2" width="3" height="20.5" fill="#089981"/>
<rect x="499.91" y="128.8" width="0.8" height="25.8" fill="#089981"/>
<rect x="498.8" y="135.0" width="3" height="10.8" fill="#089981"/>
<rect x="503.90" y="128.0" width="0.8" height="14.3" fill="#089981"/>
<rect x="502.8" y="134.6" width="3" height="1.0" fill="#089981"/>
<rect x="507.89" y="132.3" width="0.8" height="29.3" fill="#f23645"/>
<rect x="506.8" y="135.0" width="3" height="23.1" fill="#f23645"/>
<rect x="511.88" y="142.0" width="0.8" height="19.0" fill="#f23645"/>
<rect x="510.8" y="156.9" width="3" height="1.0" fill="#f23645"/>
<rect x="515.87" y="144.0" width="0.8" height="15.3" fill="#089981"/>
<rect x="514.8" y="147.9" width="3" height="10.5" fill="#089981"/>
<rect x="519.86" y="146.8" width="0.8" height="11.9" fill="#f23645"/>
<rect x="518.8" y="147.5" width="3" height="7.4" fill="#f23645"/>
<rect x="523.84" y="143.2" width="0.8" height="18.4" fill="#089981"/>
<rect x="522.7" y="154.0" width="3" height="1.0" fill="#089981"/>
<rect x="527.83" y="141.3" width="0.8" height="18.5" fill="#f23645"/>
<rect x="526.7" y="154.0" width="3" height="4.1" fill="#f23645"/>
<rect x="531.82" y="152.2" width="0.8" height="8.2" fill="#089981"/>
<rect x="530.7" y="154.0" width="3" height="3.7" fill="#089981"/>
<rect x="535.81" y="133.1" width="0.8" height="22.1" fill="#089981"/>
<rect x="534.7" y="140.2" width="3" height="14.4" fill="#089981"/>
<rect x="539.80" y="116.1" width="0.8" height="28.7" fill="#089981"/>
<rect x="538.7" y="119.1" width="3" height="22.0" fill="#089981"/>
<rect x="543.79" y="110.2" width="0.8" height="13.7" fill="#089981"/>
<rect x="542.7" y="112.0" width="3" height="7.8" fill="#089981"/>
<rect x="547.78" y="110.2" width="0.8" height="11.0" fill="#f23645"/>
<rect x="546.7" y="112.0" width="3" height="3.9" fill="#f23645"/>
<rect x="551.76" y="100.3" width="0.8" height="18.5" fill="#089981"/>
<rect x="550.7" y="108.1" width="3" height="7.8" fill="#089981"/>
<rect x="555.75" y="106.7" width="0.8" height="46.3" fill="#f23645"/>
<rect x="554.7" y="108.3" width="3" height="43.3" fill="#f23645"/>
<rect x="559.74" y="146.4" width="0.8" height="28.6" fill="#f23645"/>
<rect x="558.6" y="151.1" width="3" height="7.5" fill="#f23645"/>
<rect x="563.73" y="154.4" width="0.8" height="27.6" fill="#f23645"/>
<rect x="562.6" y="157.8" width="3" height="16.4" fill="#f23645"/>
<rect x="567.72" y="159.4" width="0.8" height="17.2" fill="#089981"/>
<rect x="566.6" y="166.9" width="3" height="7.3" fill="#089981"/>
<rect x="571.71" y="159.4" width="0.8" height="14.8" fill="#089981"/>
<rect x="570.6" y="164.4" width="3" height="2.5" fill="#089981"/>
<rect x="575.70" y="161.7" width="0.8" height="11.0" fill="#f23645"/>
<rect x="574.6" y="164.4" width="3" height="2.5" fill="#f23645"/>
<rect x="579.69" y="156.6" width="0.8" height="58.2" fill="#f23645"/>
<rect x="578.6" y="166.9" width="3" height="18.3" fill="#f23645"/>
<rect x="583.67" y="168.4" width="0.8" height="17.6" fill="#089981"/>
<rect x="582.6" y="172.7" width="3" height="12.5" fill="#089981"/>
<rect x="587.66" y="138.0" width="0.8" height="39.7" fill="#089981"/>
<rect x="586.6" y="140.9" width="3" height="32.4" fill="#089981"/>
<rect x="591.65" y="139.7" width="0.8" height="27.5" fill="#f23645"/>
<rect x="590.6" y="140.9" width="3" height="20.8" fill="#f23645"/>
<rect x="595.64" y="130.9" width="0.8" height="31.1" fill="#089981"/>
<rect x="594.5" y="137.8" width="3" height="23.9" fill="#089981"/>
<rect x="599.63" y="134.8" width="0.8" height="37.5" fill="#f23645"/>
<rect x="598.5" y="137.8" width="3" height="23.9" fill="#f23645"/>
<rect x="603.62" y="141.2" width="0.8" height="44.3" fill="#f23645"/>
<rect x="602.5" y="161.0" width="3" height="13.7" fill="#f23645"/>
<rect x="607.61" y="140.7" width="0.8" height="42.9" fill="#089981"/>
<rect x="606.5" y="164.4" width="3" height="10.3" fill="#089981"/>
<rect x="611.60" y="152.5" width="0.8" height="23.2" fill="#089981"/>
<rect x="610.5" y="157.9" width="3" height="6.7" fill="#089981"/>
<rect x="615.58" y="153.0" width="0.8" height="19.8" fill="#f23645"/>
<rect x="614.5" y="157.9" width="3" height="12.9" fill="#f23645"/>
<rect x="619.57" y="155.3" width="0.8" height="22.9" fill="#089981"/>
<rect x="618.5" y="156.9" width="3" height="13.4" fill="#089981"/>
<rect x="623.56" y="144.2" width="0.8" height="21.2" fill="#f23645"/>
<rect x="622.5" y="156.9" width="3" height="4.6" fill="#f23645"/>
<rect x="627.55" y="155.5" width="0.8" height="10.9" fill="#089981"/>
<rect x="626.5" y="159.4" width="3" height="1.9" fill="#089981"/>
<rect x="631.54" y="154.0" width="0.8" height="18.5" fill="#f23645"/>
<rect x="630.4" y="159.2" width="3" height="12.8" fill="#f23645"/>
<rect x="635.53" y="169.3" width="0.8" height="32.0" fill="#f23645"/>
<rect x="634.4" y="171.8" width="3" height="6.9" fill="#f23645"/>
<rect x="639.52" y="172.8" width="0.8" height="26.0" fill="#f23645"/>
<rect x="638.4" y="178.7" width="3" height="15.2" fill="#f23645"/>
<rect x="643.51" y="178.2" width="0.8" height="18.1" fill="#089981"/>
<rect x="642.4" y="188.0" width="3" height="5.9" fill="#089981"/>
<rect x="647.49" y="164.3" width="0.8" height="26.7" fill="#089981"/>
<rect x="646.4" y="169.3" width="3" height="19.7" fill="#089981"/>
<rect x="651.48" y="143.2" width="0.8" height="31.5" fill="#089981"/>
<rect x="650.4" y="162.0" width="3" height="7.8" fill="#089981"/>
<rect x="655.47" y="157.9" width="0.8" height="31.5" fill="#f23645"/>
<rect x="654.4" y="162.0" width="3" height="25.6" fill="#f23645"/>
<rect x="659.46" y="181.2" width="0.8" height="57.6" fill="#f23645"/>
<rect x="658.4" y="187.4" width="3" height="35.1" fill="#f23645"/>
<rect x="663.45" y="215.0" width="0.8" height="109.9" fill="#089981"/>
<rect x="662.3" y="220.8" width="3" height="1.6" fill="#089981"/>
<rect x="667.44" y="219.3" width="0.8" height="35.9" fill="#f23645"/>
<rect x="666.3" y="220.6" width="3" height="21.1" fill="#f23645"/>
<rect x="671.43" y="228.2" width="0.8" height="17.3" fill="#089981"/>
<rect x="670.3" y="233.5" width="3" height="8.2" fill="#089981"/>
<rect x="675.41" y="224.1" width="0.8" height="27.5" fill="#f23645"/>
<rect x="674.3" y="233.5" width="3" height="14.4" fill="#f23645"/>
<rect x="679.40" y="232.3" width="0.8" height="32.2" fill="#f23645"/>
<rect x="678.3" y="247.9" width="3" height="9.0" fill="#f23645"/>
<rect x="683.39" y="250.5" width="0.8" height="11.1" fill="#089981"/>
<rect x="682.3" y="255.2" width="3" height="1.7" fill="#089981"/>
<rect x="687.38" y="246.0" width="0.8" height="25.0" fill="#f23645"/>
<rect x="686.3" y="254.9" width="3" height="2.0" fill="#f23645"/>
<rect x="691.37" y="247.0" width="0.8" height="18.1" fill="#089981"/>
<rect x="690.3" y="251.4" width="3" height="5.5" fill="#089981"/>
<rect x="695.36" y="242.9" width="0.8" height="22.8" fill="#f23645"/>
<rect x="694.3" y="251.4" width="3" height="8.4" fill="#f23645"/>
<rect x="699.35" y="232.3" width="0.8" height="34.6" fill="#089981"/>
<rect x="698.2" y="241.1" width="3" height="18.7" fill="#089981"/>
<rect x="703.34" y="238.2" width="0.8" height="19.9" fill="#f23645"/>
<rect x="702.2" y="241.1" width="3" height="8.8" fill="#f23645"/>
<rect x="707.32" y="233.1" width="0.8" height="17.6" fill="#089981"/>
<rect x="706.2" y="242.5" width="3" height="7.4" fill="#089981"/>
<rect x="711.31" y="240.5" width="0.8" height="10.9" fill="#f23645"/>
<rect x="710.2" y="242.9" width="3" height="4.6" fill="#f23645"/>
<rect x="715.30" y="242.3" width="0.8" height="10.3" fill="#f23645"/>
<rect x="714.2" y="247.0" width="3" height="4.9" fill="#f23645"/>
<rect x="719.29" y="225.3" width="0.8" height="29.3" fill="#089981"/>
<rect x="718.2" y="239.9" width="3" height="12.0" fill="#089981"/>
<rect x="723.28" y="238.5" width="0.8" height="20.8" fill="#f23645"/>
<rect x="722.2" y="239.9" width="3" height="10.0" fill="#f23645"/>
<rect x="727.27" y="241.7" width="0.8" height="9.7" fill="#089981"/>
<rect x="726.2" y="244.0" width="3" height="5.9" fill="#089981"/>
<rect x="731.26" y="236.4" width="0.8" height="8.1" fill="#089981"/>
<rect x="730.2" y="241.1" width="3" height="2.9" fill="#089981"/>
<rect x="735.25" y="225.6" width="0.8" height="31.9" fill="#f23645"/>
<rect x="734.1" y="241.1" width="3" height="10.3" fill="#f23645"/>
<rect x="739.23" y="232.7" width="0.8" height="19.3" fill="#089981"/>
<rect x="738.1" y="237.0" width="3" height="14.6" fill="#089981"/>
<rect x="743.22" y="224.1" width="0.8" height="15.2" fill="#089981"/>
<rect x="742.1" y="228.8" width="3" height="8.2" fill="#089981"/>
<rect x="747.21" y="226.1" width="0.8" height="51.8" fill="#f23645"/>
<rect x="746.1" y="228.8" width="3" height="42.9" fill="#f23645"/>
<rect x="751.20" y="268.9" width="0.8" height="30.7" fill="#f23645"/>
<rect x="750.1" y="272.0" width="3" height="18.7" fill="#f23645"/>
</g>
<!-- bottom blue rect (on top of candles) -->
<g clip-path="url(#plot)"><rect x="0" y="312.2" width="787.3" height="11.7" fill="rgba(30,60,170,0.35)" stroke="#d1d4dc" stroke-width="1.7"/></g>
<!-- price line -->
<line x1="6.7" y1="290.5" x2="976" y2="290.5" stroke="#f23645" stroke-opacity="0.6" stroke-width="1" stroke-dasharray="1.6,1.4"/>
<!-- arrow -->
<polyline points="754.6,289.8 771.1,320.9 779.4,284.7" fill="none" stroke="#ffffff" stroke-width="1.8" stroke-linejoin="miter"/>
<polyline points="767.3,292.5 779.4,284.5 786.8,296.6" fill="none" stroke="#ffffff" stroke-width="1.8"/>
<!-- legend -->
<g font-size="8" fill="#b8bbc3" stroke="#b8bbc3" stroke-width="0.2">
<text x="11.3" y="29.3" textLength="118.9" lengthAdjust="spacingAndGlyphs">Ethereum / TetherUS, 1D, BINANCE</text>
<text x="135.2" y="29.3">O</text>
<text x="174.8" y="29.3">H</text>
<text x="213.6" y="29.3">L</text>
<text x="250.9" y="29.3">C</text>
<text x="11.3" y="39.2" textLength="54" lengthAdjust="spacingAndGlyphs">EMA (200, close)</text>
</g>
<g font-size="8" fill="#f23645" stroke="#f23645" stroke-width="0.15">
<text x="140.9" y="29.3" textLength="29.2" lengthAdjust="spacingAndGlyphs">2,513.52</text>
<text x="179.8" y="29.3" textLength="29.2" lengthAdjust="spacingAndGlyphs">2,530.60</text>
<text x="217.7" y="29.3" textLength="29.4" lengthAdjust="spacingAndGlyphs">2,313.49</text>
<text x="256.2" y="29.3" textLength="29.2" lengthAdjust="spacingAndGlyphs">2,381.24</text>
<text x="290" y="29.3" textLength="57.2" lengthAdjust="spacingAndGlyphs">−132.28 (−5.26%)</text>
</g>
<text x="72" y="39.2" font-size="8" fill="#2962ff" stroke="#2962ff" stroke-width="0.15" textLength="29.2" lengthAdjust="spacingAndGlyphs">3,042.25</text>
<!-- price axis labels -->
<g font-size="8.1" fill="#c3c6ce" stroke="#c3c6ce" stroke-width="0.2">
<text x="981.8" y="400.9" textLength="29.5" lengthAdjust="spacingAndGlyphs">1,600.00</text><text x="981.8" y="373.1" textLength="29.5" lengthAdjust="spacingAndGlyphs">1,800.00</text><text x="981.8" y="345.2" textLength="29.5" lengthAdjust="spacingAndGlyphs">2,000.00</text><text x="981.8" y="317.4" textLength="29.5" lengthAdjust="spacingAndGlyphs">2,200.00</text><text x="981.8" y="289.5" textLength="29.5" lengthAdjust="spacingAndGlyphs">2,400.00</text><text x="981.8" y="261.7" textLength="29.5" lengthAdjust="spacingAndGlyphs">2,600.00</text><text x="981.8" y="233.9" textLength="29.5" lengthAdjust="spacingAndGlyphs">2,800.00</text><text x="981.8" y="206.0" textLength="29.5" lengthAdjust="spacingAndGlyphs">3,000.00</text><text x="981.8" y="178.2" textLength="29.5" lengthAdjust="spacingAndGlyphs">3,200.00</text><text x="981.8" y="150.4" textLength="29.5" lengthAdjust="spacingAndGlyphs">3,400.00</text><text x="981.8" y="122.5" textLength="29.5" lengthAdjust="spacingAndGlyphs">3,600.00</text><text x="981.8" y="94.7" textLength="29.5" lengthAdjust="spacingAndGlyphs">3,800.00</text><text x="981.8" y="66.8" textLength="29.5" lengthAdjust="spacingAndGlyphs">4,000.00</text><text x="981.8" y="39.0" textLength="29.5" lengthAdjust="spacingAndGlyphs">4,200.00</text>
</g>
<!-- EMA label -->
<rect x="977" y="193" width="37.5" height="11" rx="1.5" fill="#2962ff"/><rect x="977" y="193" width="4" height="11" fill="#2962ff"/>
<text x="982" y="200.7" font-size="7.8" fill="#ffffff" stroke="#ffffff" stroke-width="0.2" textLength="29.5" lengthAdjust="spacingAndGlyphs">3,042.25</text>
<!-- current price label -->
<rect x="977" y="285.3" width="37.5" height="19.3" rx="1.5" fill="#f23645"/><rect x="977" y="285.3" width="4" height="19.3" fill="#f23645"/>
<text x="982" y="292.9" font-size="7.8" fill="#ffffff" stroke="#ffffff" stroke-width="0.2" textLength="29.5" lengthAdjust="spacingAndGlyphs">2,381.24</text>
<text x="982" y="301.2" font-size="7.8" fill="#ffffff" stroke="#ffffff" stroke-width="0.2" textLength="29.5" lengthAdjust="spacingAndGlyphs">09:09:57</text>
<!-- time axis -->
<g font-size="7.2" fill="#b8bbc3" stroke="#b8bbc3" stroke-width="0.2">
<text x="45.5" y="420" text-anchor="middle">Sep</text><text x="165.4" y="420" text-anchor="middle">Oct</text><text x="288.5" y="420" text-anchor="middle">Nov</text><text x="408.5" y="420" text-anchor="middle">Dec</text><text x="523.8" y="420" font-weight="bold" font-size="7.8" textLength="17.4" lengthAdjust="spacingAndGlyphs">2025</text><text x="656" y="420" text-anchor="middle">Feb</text><text x="767.5" y="420" text-anchor="middle">Mar</text><text x="891.5" y="420" text-anchor="middle">Apr</text>
</g>
<!-- event icon -->
<circle cx="751.5" cy="400.4" r="6.2" fill="#0d0d12" stroke="#9c40c0" stroke-width="1.1"/>
<path d="M752.5,397.2 L754.1,397.2 L752.2,399.9 L753.9,399.9 L750.1,404.4 L751.2,401.4 L749.1,401.4 Z" fill="#a044c4"/>
<circle cx="755.7" cy="396" r="2" fill="#f23645"/>
<!-- footer logo -->
<g transform="translate(5.9,432) scale(0.365)" fill="#e6e6e6">
<path d="M14 22H7V11H0V4h14v18zM28 22h-8l7.5-18h8L28 22z"/><circle cx="20" cy="8" r="4"/>
</g>
<text x="22" y="440" font-size="8.6" fill="#dcdcdc" stroke="#dcdcdc" stroke-width="0.25" textLength="43" lengthAdjust="spacingAndGlyphs">TradingView</text>
</svg>
</body></html>
